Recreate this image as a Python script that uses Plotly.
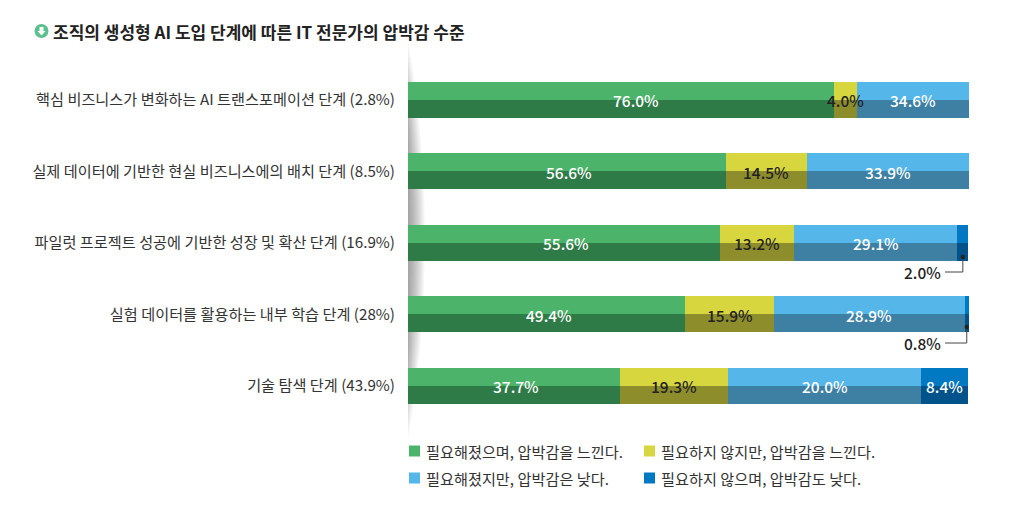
import plotly.graph_objects as go
import numpy as np

W, H = 1023, 510
PAGE_MARGIN = 8
FIG_W, FIG_H = W - 2 * PAGE_MARGIN, H - 2 * PAGE_MARGIN
FONT = "Noto Sans CJK KR"

title = "조직의 생성형 AI 도입 단계에 따른 IT 전문가의 압박감 수준"
categories = [
    "핵심 비즈니스가 변화하는 AI 트랜스포메이션 단계 (2.8%)",
    "실제 데이터에 기반한 현실 비즈니스에의 배치 단계 (8.5%)",
    "파일럿 프로젝트 성공에 기반한 성장 및 확산 단계 (16.9%)",
    "실험 데이터를 활용하는 내부 학습 단계 (28%)",
    "기술 탐색 단계 (43.9%)",
]
series_names = [
    "필요해졌으며, 압박감을 느낀다.",
    "필요하지 않지만, 압박감을 느낀다.",
    "필요해졌지만, 압박감은 낮다.",
    "필요하지 않으며, 압박감도 낮다.",
]
# printed values
needed_pressed = [76.0, 56.6, 55.6, 49.4, 37.7]
notneeded_pressed = [4.0, 14.5, 13.2, 15.9, 19.3]
needed_low = [34.6, 33.9, 29.1, 28.9, 20.0]
notneeded_low = [None, None, 2.0, 0.8, 8.4]
# the reference draws these segment lengths, which differ from its printed labels
needed_low_drawn = [34.6, 33.9, 29.1, 33.9, 34.5]
notneeded_low_drawn = [0, 0, 2.0, 0.8, 8.4]

colors_top = ["#4CB36A", "#D8D63E", "#55B6E9", "#0079C2"]
colors_bottom = ["#2E7B48", "#8E8D2C", "#3D80A4", "#00528A"]
label_colors = ["white", "#222222", "white", "white"]

printed = [needed_pressed, notneeded_pressed, needed_low, notneeded_low]
drawn = [needed_pressed, notneeded_pressed, needed_low_drawn, notneeded_low_drawn]

X0, X1 = 408, 969
Y_TOP, Y_BOT = 64.4, 421.9
BAR = 0.503
y = list(range(len(categories)))


def px(v):
    return (v - PAGE_MARGIN) / FIG_W


def py(v):
    return 1 - (v - PAGE_MARGIN) / FIG_H


fig = go.Figure()
base = np.zeros(len(categories))
annotations = []
for s in range(4):
    vals = np.array(drawn[s], dtype=float)
    fig.add_trace(go.Bar(y=y, x=vals, base=base, orientation="h", width=BAR / 2, offset=-BAR / 2,
                         marker=dict(color=colors_top[s], line=dict(width=0)), showlegend=False))
    fig.add_trace(go.Bar(y=y, x=vals, base=base, orientation="h", width=BAR / 2, offset=0,
                         marker=dict(color=colors_bottom[s], line=dict(width=0)), showlegend=False))
    for i in y:
        v = printed[s][i]
        if v is None or v < 3:
            continue
        centre = (base[i] + min(base[i] + vals[i], 100)) / 2
        annotations.append(dict(
            x=centre, y=i, xref="x", yref="y", text=f"{v:.1f}%", showarrow=False,
            xshift=15 if (s == 0 and i == 0) else 2 if s == 0 else 0,
            font=dict(family=FONT, size=15.5, color=label_colors[s], weight=500)))
    base = base + vals

shapes = []
# soft shadow behind the bars: nested half lenses
cy = 240
for k in range(14):
    half = 200 * (1 - k * 0.035)
    reach = 34 * (1 - k / 14)
    a, b = py(cy - half), py(cy + half)
    shapes.append(dict(type="path", xref="paper", yref="paper", layer="below",
                       path=f"M {px(X0)},{a} Q {px(X0 + reach)},{py(cy)} {px(X0)},{b} Z",
                       fillcolor="rgba(70,70,70,0.045)", line=dict(width=0)))

# callouts for the two thin segments
for i, lab in [(2, "2.0%"), (3, "0.8%")]:
    start = needed_pressed[i] + notneeded_pressed[i] + needed_low_drawn[i]
    cx = start + notneeded_low_drawn[i] / 2
    elbow_px = {2: 272, 3: 343}[i]
    xd = X0 + (X1 - X0) * cx / 100
    ydot = {2: 257, 3: 327}[i]
    shapes.append(dict(type="path", xref="paper", yref="paper",
                       path=f"M {px(xd)},{py(ydot)} L {px(xd)},{py(elbow_px)} L {px(945)},{py(elbow_px)}",
                       line=dict(color="#444444", width=1)))
    shapes.append(dict(type="circle", xref="paper", yref="paper",
                       x0=px(xd - 2.2), x1=px(xd + 2.2), y0=py(ydot - 2.2), y1=py(ydot + 2.2),
                       fillcolor="#222222", line=dict(width=0)))
    annotations.append(dict(x=px(943), y=py(elbow_px), xref="paper", yref="paper", xanchor="right",
                            yanchor="middle", text=lab, showarrow=False,
                            font=dict(family=FONT, size=15.5, color="#222222", weight=500)))

# legend
leg_x = [409, 644]
leg_y = [451, 478]
for s, name in enumerate(series_names):
    lx, ly = leg_x[s % 2], leg_y[s // 2]
    shapes.append(dict(type="rect", xref="paper", yref="paper", x0=px(lx), x1=px(lx + 11),
                       y0=py(ly - 5.5), y1=py(ly + 5.5), fillcolor=colors_top[s], line=dict(width=0)))
    annotations.append(dict(x=px(lx + 15), y=py(ly), xref="paper", yref="paper", xanchor="left",
                            yanchor="middle", text=name, showarrow=False,
                            font=dict(family=FONT, size=15.2, color="#333333")))

# title and icon
shapes.append(dict(type="circle", xref="paper", yref="paper", x0=px(34.5), x1=px(48.5), y0=py(38), y1=py(24),
                   fillcolor="#5CC08E", line=dict(width=0)))
shapes.append(dict(type="path", xref="paper", yref="paper",
                   path=f"M {px(37.5)},{py(31)} L {px(39.5)},{py(31)} L {px(39.5)},{py(27)} L {px(43.5)},{py(27)} "
                        f"L {px(43.5)},{py(31)} L {px(45.5)},{py(31)} L {px(41.5)},{py(35.5)} Z",
                   fillcolor="#FFFFFF", line=dict(width=0)))
annotations.append(dict(x=px(51), y=py(31), xref="paper", yref="paper", xanchor="left", yanchor="middle",
                        text=title, showarrow=False,
                        font=dict(family=FONT, size=17, color="#222222", weight=700)))

fig.update_layout(
    width=FIG_W, height=FIG_H, autosize=False, margin=dict(l=0, r=0, t=0, b=0),
    paper_bgcolor="white", plot_bgcolor="rgba(0,0,0,0)", barmode="overlay", bargap=0,
    xaxis=dict(domain=[px(X0), px(X1)], range=[0, 100], visible=False, fixedrange=True),
    yaxis=dict(domain=[py(Y_BOT), py(Y_TOP)], range=[4.5, -0.5], tickmode="array", tickvals=y,
               ticktext=categories, ticks="outside", ticklen=9, tickcolor="rgba(0,0,0,0)",
               showgrid=False, zeroline=False, showline=False,
               tickfont=dict(family=FONT, size=15.2, color="#333333")),
    shapes=shapes, annotations=annotations, showlegend=False,
)
fig.write_html("out.html")
